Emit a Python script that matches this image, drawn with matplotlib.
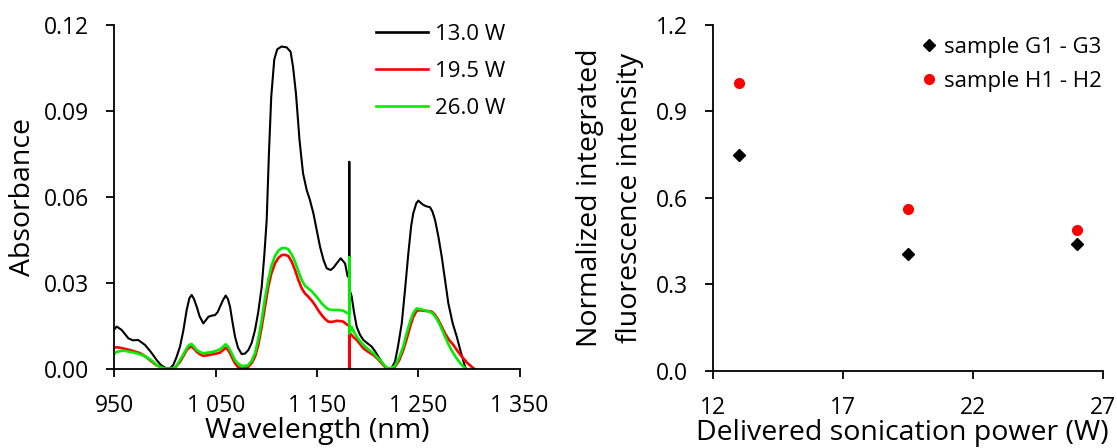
import numpy as np
import matplotlib
matplotlib.use('Agg')
import matplotlib.pyplot as plt

plt.rcParams['font.family'] = ['Open Sans', 'DejaVu Sans']

# absorbance spectra
wl_13 = [950, 952.2, 957.1, 963.7, 968, 973.5, 980.1, 986, 991.7, 996, 1001.5, 1005, 1008, 1011, 1014.7,
         1018, 1021.3, 1024, 1026.2, 1028.5, 1031.2, 1034, 1037.7, 1040, 1042.7, 1046, 1049.3, 1052,
         1054.2, 1057, 1059.8, 1062, 1064.1, 1066.5, 1069, 1072, 1075.6, 1079, 1082.2, 1085.5, 1088.8,
         1092, 1095.4, 1098, 1100.3, 1102.5, 1104.8, 1107.8, 1110.7, 1114.9, 1120, 1123.9, 1126.3,
         1129.2, 1132.7, 1136.2, 1139.8, 1143, 1146.4, 1150, 1153, 1156.5, 1159.6, 1163.5, 1166.5,
         1169.4, 1173.4, 1177.7, 1180.3, 1181.9, 1181.9, 1181.9, 1184.3, 1186.5, 1189.2, 1192.5,
         1195.8, 1200, 1204, 1207.5, 1210.6, 1214, 1217.2, 1220.4, 1223.5, 1227, 1230, 1233.7, 1237,
         1240.2, 1243, 1245.1, 1248, 1250.1, 1252.5, 1255, 1258, 1261.6, 1264, 1266.6, 1270, 1273.2,
         1276.5, 1279.7, 1284, 1288, 1292, 1296.2, 1297.9]
abs_13 = [0.0140, 0.0149, 0.0137, 0.0108, 0.0101, 0.0102, 0.0085, 0.0060, 0.0032, 0.0014, 0.0003, 0.0004,
          0.0015, 0.0040, 0.0079, 0.0135, 0.0207, 0.0248, 0.0259, 0.0245, 0.0218, 0.0185, 0.0160,
          0.0170, 0.0183, 0.0187, 0.0189, 0.0200, 0.0218, 0.0240, 0.0257, 0.0245, 0.0218, 0.0165,
          0.0114, 0.0075, 0.0053, 0.0055, 0.0067, 0.0092, 0.0137, 0.0200, 0.0288, 0.0400, 0.0520,
          0.0750, 0.0950, 0.1080, 0.1115, 0.1125, 0.1122, 0.1107, 0.1055, 0.0962, 0.0800, 0.0683,
          0.0625, 0.0590, 0.0544, 0.0480, 0.0427, 0.0380, 0.0352, 0.0346, 0.0355, 0.0369, 0.0387,
          0.0369, 0.0323, 0.0323, 0.0723, 0.0280, 0.0253, 0.0200, 0.0148, 0.0120, 0.0102, 0.0090,
          0.0079, 0.0062, 0.0044, 0.0025, 0.0009, 0.0000, 0.0004, 0.0026, 0.0080, 0.0160, 0.0280,
          0.0404, 0.0500, 0.0544, 0.0578, 0.0588, 0.0580, 0.0573, 0.0568, 0.0565, 0.0550, 0.0520,
          0.0460, 0.0392, 0.0310, 0.0230, 0.0160, 0.0114, 0.0060, 0.0009, 0.0000]

wl_195 = [950, 952.2, 958, 965.3, 970, 975.2, 980, 985, 991, 998.2, 1006.5, 1010.5, 1014.7, 1018,
          1021.3, 1023.8, 1026.2, 1028.7, 1031.2, 1034.5, 1037.7, 1042.5, 1047.6, 1051, 1054.2, 1057,
          1059.8, 1062, 1064.1, 1066.5, 1069, 1072, 1075.6, 1079, 1082.2, 1085.5, 1088.8, 1092,
          1095.4, 1098.5, 1101.9, 1105, 1108.5, 1111.8, 1115.1, 1118.4, 1121.7, 1125, 1128.3, 1131.5,
          1134.9, 1138, 1141.4, 1144.7, 1148, 1151.3, 1154.6, 1158, 1161.2, 1165, 1169.4, 1173, 1176,
          1180.3, 1181.9, 1181.9, 1181.9, 1183.3, 1186, 1189.2, 1192.5, 1195.8, 1200.5, 1205.6, 1210,
          1213.9, 1217, 1220.4, 1223.5, 1227, 1231, 1235.2, 1238.5, 1241.9, 1245, 1248.4, 1251.5, 1255,
          1259, 1263.3, 1266.5, 1269.8, 1273, 1276.4, 1280.5, 1284.6, 1289.5, 1294.5, 1298.5, 1302.7,
          1307.6]
abs_195 = [0.0075, 0.0077, 0.0073, 0.0067, 0.0062, 0.0056, 0.0046, 0.0032, 0.0015, 0.0003, 0.0000,
           0.0008, 0.0026, 0.0046, 0.0067, 0.0076, 0.0079, 0.0071, 0.0061, 0.0052, 0.0047, 0.0049,
           0.0053, 0.0055, 0.0058, 0.0066, 0.0075, 0.0068, 0.0056, 0.0038, 0.0021, 0.0008, 0.0002,
           0.0004, 0.0009, 0.0022, 0.0044, 0.0085, 0.0148, 0.0215, 0.0288, 0.0335, 0.0369, 0.0388,
           0.0398, 0.0399, 0.0395, 0.0375, 0.0346, 0.0312, 0.0282, 0.0265, 0.0253, 0.0240, 0.0224,
           0.0205, 0.0189, 0.0175, 0.0166, 0.0165, 0.0169, 0.0168, 0.0166, 0.0154, 0.0154, 0.0000,
           0.0125, 0.0123, 0.0112, 0.0102, 0.0088, 0.0073, 0.0061, 0.0050, 0.0036, 0.0021, 0.0009,
           0.0000, 0.0002, 0.0009, 0.0030, 0.0067, 0.0105, 0.0148, 0.0182, 0.0204, 0.0206, 0.0204,
           0.0203, 0.0201, 0.0190, 0.0172, 0.0150, 0.0125, 0.0102, 0.0085, 0.0060, 0.0038, 0.0022,
           0.0009, -0.0005]

wl_26 = [950, 952.2, 959, 965, 972, 977, 982, 987, 991.7, 996.5, 1001.5, 1008, 1011.5, 1014.7, 1018,
         1021.3, 1023.8, 1026.2, 1028.7, 1031.2, 1034.5, 1037.7, 1042.5, 1047.6, 1051, 1054.2, 1057,
         1059.8, 1062, 1064.1, 1066.5, 1069, 1072, 1075.6, 1079, 1082.2, 1085.5, 1088.8, 1092,
         1095.4, 1098.5, 1101.9, 1105, 1108.5, 1111.8, 1115.1, 1118.4, 1121.7, 1125, 1128.3, 1131.5,
         1134.9, 1138, 1141.4, 1144.7, 1148, 1151.3, 1154.6, 1158, 1161.2, 1165, 1169.4, 1173, 1176,
         1180.3, 1181.9, 1181.9, 1181.9, 1184.3, 1186.5, 1189.2, 1192.5, 1195.8, 1200.5, 1205.6,
         1210, 1213.9, 1217, 1220.4, 1223.5, 1227, 1231, 1235.2, 1238.5, 1241.9, 1245, 1248.4,
         1251.5, 1255, 1259, 1263.3, 1266.5, 1269.8, 1273, 1276.4, 1280.5, 1284.6, 1288.5, 1292.9,
         1297.9]
abs_26 = [0.0055, 0.0061, 0.0065, 0.0061, 0.0056, 0.0050, 0.0042, 0.0030, 0.0015, 0.0006, 0.0002,
          0.0003, 0.0013, 0.0032, 0.0052, 0.0073, 0.0085, 0.0088, 0.0078, 0.0067, 0.0060, 0.0056,
          0.0058, 0.0061, 0.0065, 0.0070, 0.0078, 0.0087, 0.0080, 0.0067, 0.0050, 0.0032, 0.0020,
          0.0012, 0.0012, 0.0015, 0.0030, 0.0056, 0.0105, 0.0172, 0.0245, 0.0311, 0.0360, 0.0395,
          0.0413, 0.0422, 0.0423, 0.0418, 0.0400, 0.0375, 0.0343, 0.0311, 0.0292, 0.0282, 0.0272,
          0.0259, 0.0245, 0.0230, 0.0218, 0.0209, 0.0207, 0.0207, 0.0206, 0.0204, 0.0195, 0.0195,
          0.0390, 0.0125, 0.0148, 0.0130, 0.0114, 0.0098, 0.0085, 0.0070, 0.0056, 0.0040, 0.0026,
          0.0012, 0.0003, 0.0005, 0.0012, 0.0040, 0.0079, 0.0125, 0.0166, 0.0196, 0.0212, 0.0210,
          0.0207, 0.0203, 0.0197, 0.0185, 0.0166, 0.0142, 0.0114, 0.0082, 0.0056, 0.0035, 0.0015,
          0.0000]

# fluorescence vs power
power = [13.0, 19.5, 26.0]
fluo_G = [0.75, 0.405, 0.442]
fluo_H = [1.0, 0.563, 0.49]

green = '#00EE00'
fs_tick = 16.5
fs_leg = 16
fs_lab = 20.5

fig = plt.figure(figsize=(11.17, 4.48), dpi=100)
ax1 = fig.add_axes([0.1025, 0.1757, 0.3626, 0.7685])
ax2 = fig.add_axes([0.638, 0.1719, 0.3491, 0.7723])

ax1.plot(wl_13, abs_13, color='black', lw=1.5, label='13.0 W', solid_joinstyle='round')
ax1.plot(wl_195, abs_195, color='red', lw=1.9, label='19.5 W', solid_joinstyle='round')
ax1.plot(wl_26, abs_26, color=green, lw=1.9, label='26.0 W', solid_joinstyle='round')
ax1.set_xlim(950, 1350)
ax1.set_ylim(0, 0.12)
ax1.set_xticks([950, 1050, 1150, 1250, 1350])
ax1.set_xticklabels(['950', '1 050', '1 150', '1 250', '1 350'])
ax1.set_yticks([0, 0.03, 0.06, 0.09, 0.12])
ax1.set_yticklabels(['0.00', '0.03', '0.06', '0.09', '0.12'])
ax1.set_xlabel('Wavelength (nm)', fontsize=fs_lab)
ax1.xaxis.set_label_coords(0.5, -0.138)
ax1.set_ylabel('Absorbance', fontsize=fs_lab, va='center')
ax1.yaxis.set_label_coords(-0.225, 0.5)
leg1 = ax1.legend(loc='upper left', bbox_to_anchor=(376.4 / 1117, 1 - 24 / 448),
                  bbox_transform=fig.transFigure, frameon=False, fontsize=fs_leg,
                  handlelength=2.34, handletextpad=0.3, labelspacing=0.71,
                  borderpad=0, borderaxespad=0)
for h in leg1.get_lines():
    h.set_linewidth(1.9)

ax2.plot(power, fluo_G, 'D', color='black', ms=6, label='sample G1 - G3', clip_on=False)
ax2.plot(power, fluo_H, 'o', color='red', ms=7, label='sample H1 - H2', clip_on=False)
ax2.set_xlim(12, 27)
ax2.set_ylim(0, 1.2)
ax2.set_xticks([12, 17, 22, 27])
ax2.set_yticks([0, 0.3, 0.6, 0.9, 1.2])
ax2.set_yticklabels(['0.0', '0.3', '0.6', '0.9', '1.2'])
ax2.set_xlabel('Delivered sonication power (W)', fontsize=fs_lab)
ax2.xaxis.set_label_coords(0.487, -0.138)
ax2.set_ylabel('Normalized integrated\nfluorescence intensity', fontsize=fs_lab, va='center',
               linespacing=1.54)
ax2.yaxis.set_label_coords(-0.263, 0.5)
ax2.legend(loc='upper left', bbox_to_anchor=(920.4 / 1117, 1 - 37 / 448), bbox_transform=fig.transFigure,
           frameon=False, fontsize=fs_leg, handlelength=0.8, handletextpad=0.26, numpoints=1,
           labelspacing=0.57, borderpad=0, borderaxespad=0)

for ax in (ax1, ax2):
    ax.spines['top'].set_visible(False)
    ax.spines['right'].set_visible(False)
    ax.spines['left'].set_linewidth(1.3)
    ax.spines['bottom'].set_linewidth(1.3)
    ax.tick_params(direction='out', length=6, width=1.3, labelsize=fs_tick, pad=12)

fig.savefig('out.png', dpi=100)
